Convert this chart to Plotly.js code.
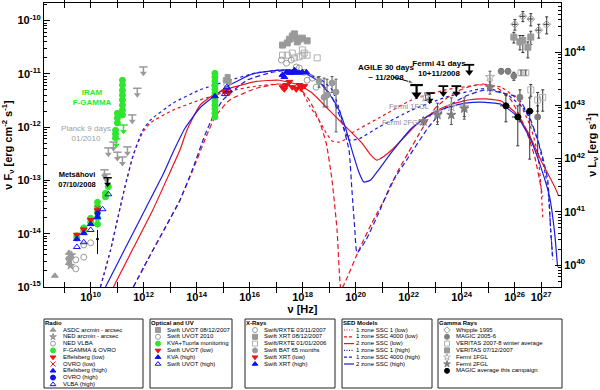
<!DOCTYPE html>
<html><head><meta charset="utf-8">
<script src="https://cdn.plot.ly/plotly-3.0.1.min.js"></script>
<style>html,body{margin:0;padding:0;background:#fff}#chart{width:600px;height:390px}</style>
</head><body><div id="chart"></div>
<script>
// ===== DATA: log10(nu [Hz]) and log10(nuFnu [erg cm^-2 s^-1]) =====
// Radio
const asdcNu = [8.65, 9.18, 9.21, 9.18];
const asdcF  = [-14.79, -14.36, -14.44, -14.55];
const nedStarNu = [9.2, 9.24, 9.28];
const nedStarF  = [-14.49, -14.6, -14.4];
const nedVlbaNu = [9.18, 9.44, 9.44, 9.74, 9.74, 10.0];
const nedVlbaF  = [-14.47, -14.66, -14.49, -14.44, -14.21, -14.17];
const fgammaNu = [9.48, 9.48, 9.74, 9.74, 10.0, 10.0, 10.26, 10.26, 10.26, 10.26, 10.26, 10.56, 10.56, 10.67,
                  10.94, 10.94, 10.94, 11.01, 11.01, 11.01, 11.2, 11.2, 11.2, 11.2, 11.2, 11.2, 11.2, 11.2];
const fgammaF  = [-14.04, -14.08, -13.89, -13.95, -13.71, -13.78, -13.41, -13.5, -13.6, -13.7, -13.82, -13.31, -13.24, -13.12,
                  -12.06, -12.13, -12.2, -11.74, -11.83, -11.92, -11.12, -11.21, -11.31, -11.4, -11.49, -11.59, -11.68, -11.77];
const fgammaLimNu = [11.24, 10.97];
const fgammaLimF  = [-11.96, -12.22];
const planckLimNu = [11.99, 11.76, 11.57, 11.39, 11.2, 11.01, 10.86, 10.67, 10.52, 10.6];
const planckLimF  = [-10.87, -11.27, -11.77, -12.37, -12.56, -12.47, -12.28, -12.39, -12.8, -12.88];
const metsahoviLimNu = [10.64];
const metsahoviLimF  = [-12.95];
const radioBarNu = [10.26];
const radioBarF = [-14.1];
const radioBarHi = [-13.93];
const radioBarLo = [-14.38];
const effLowNu = [9.48, 9.74, 10.0, 10.26];
const effLowF  = [-14.02, -13.92, -13.74, -13.56];
const ovroLowNu = [10.26];
const ovroLowF  = [-13.52];
const effHighNu = [9.48, 9.74, 10.0, 10.26];
const effHighF  = [-14.1, -13.99, -13.82, -13.69];
const ovroHighNu = [10.26];
const ovroHighF  = [-13.62];
const vlbaHighNu = [9.48, 9.74, 10.0, 10.45, 10.67];
const vlbaHighF  = [-14.25, -14.16, -13.93, -13.54, -13.26];
// Optical / UV
const kvaNu = [14.69, 14.69, 14.69, 14.69, 14.69, 14.69, 14.69, 14.69, 14.69, 14.69, 14.69, 14.69];
const kvaF  = [-10.99, -11.06, -11.14, -11.21, -11.29, -11.36, -11.44, -11.51, -11.59, -11.66, -11.74, -11.81];
const kvaHighNu = [14.69];
const kvaHighF  = [-11.42];
const uvot0812Nu = [15.1, 15.17, 15.21];
const uvot0812F  = [-11.12, -11.06, -11.15];
const uvot2010Nu = [15.14];
const uvot2010F  = [-11.2];
const uvotLowNu = [15.06, 15.14, 15.21];
const uvotLowF  = [-11.34, -11.3, -11.36];
const uvotHighNu = [15.06, 15.14, 15.21];
const uvotHighF  = [-11.38, -11.25, -11.31];
// X-rays
const xrt0812Nu = [17.24, 17.42, 17.5, 17.61, 17.69, 17.76, 17.8, 17.87, 17.99, 18.17];
const xrt0812F  = [-10.46, -10.42, -10.35, -10.29, -10.25, -10.33, -10.4, -10.35, -10.33, -10.38];
const rxte0106Nu = [17.24, 17.42, 17.61, 17.69, 17.87, 17.99, 17.99, 18.06, 18.17, 18.55];
const rxte0106F  = [-10.65, -10.65, -10.61, -10.7, -10.68, -10.55, -10.65, -10.61, -10.65, -10.7];
const rxte0311Nu = [17.2, 17.39, 17.57, 17.76, 17.87, 18.06, 18.17, 18.36, 18.51];
const rxte0311F  = [-10.74, -10.8, -10.74, -10.87, -10.89, -10.97, -11.12, -11.08, -11.25];
const xrtHighNu = [17.24, 17.31, 17.39, 17.5, 17.61, 17.69, 17.76, 17.87, 17.99, 18.14];
const xrtHighF  = [-11.02, -11.06, -10.97, -10.98, -10.98, -10.93, -10.97, -10.98, -10.97, -10.97];
const xrtLowNu = [17.24, 17.31, 17.39, 17.5, 17.61, 17.76, 17.87, 17.95, 18.06];
const xrtLowF  = [-11.25, -11.29, -11.21, -11.15, -11.25, -11.29, -11.21, -11.27, -11.23];
const batNu = [18.62, 18.81, 18.92, 19.11, 19.26];
const batF  = [-11.14, -11.44, -11.4, -11.17, -11.34];
const batHi = [-11.05, -11.08, -11.1, -11.05, -11.1];
const batLo = [-11.25, -11.62, -11.62, -11.35, -12.09];
// Gamma rays
const agileLimNu = [22.3];
const agileLimF  = [-11.21];
const fermi41LimNu = [22.79, 23.31, 23.8, 24.29];
const fermi41LimF  = [-11.36, -11.23, -11.23, -10.83];
const fermi1Nu = [22.64, 23.09, 23.61, 24.1, 25.07];
const fermi1F  = [-11.44, -11.72, -11.62, -11.62, -11.06];
const fermi1Hi = [-11.38, -11.55, -11.45, -11.45, -10.95];
const fermi1Lo = [-11.5, -11.9, -11.8, -11.8, -11.2];
const fermi2Nu = [22.56, 23.09, 23.61, 24.1, 25.07];
const fermi2F  = [-11.89, -11.77, -11.77, -11.65, -11.25];
const fermi2Hi = [-11.82, -11.62, -11.62, -11.5, -11.15];
const fermi2Lo = [-11.96, -11.95, -11.95, -11.85, -11.38];
const magic56Nu = [25.49, 25.75, 25.97, 26.2, 26.87];
const magic56F  = [-10.95, -10.95, -11.04, -11.44, -11.81];
const magic56Hi = [-10.9, -10.9, -10.97, -11.3, -11.6];
const magic56Lo = [-11.0, -11.0, -11.12, -11.9, -12.5];
const veritasWNu = [26.24, 26.42, 26.61, 26.87, 27.06];
const veritasWF  = [-10.98, -10.98, -11.3, -11.49, -11.44];
const veritasWHi = [-10.93, -10.93, -11.2, -11.35, -11.3];
const veritasWLo = [-11.03, -11.03, -11.42, -11.7, -11.7];
const whippleNu = [26.01, 26.31, 26.61, 26.91, 27.21];
const whippleF  = [-10.07, -9.92, -9.97, -10.18, -10.07];
const whippleHi = [-9.98, -9.83, -9.87, -10.07, -9.93];
const whippleLo = [-10.18, -10.02, -10.1, -10.33, -10.25];
const veritasDNu = [25.97, 26.2, 26.31, 26.5, 26.61];
const veritasDF  = [-10.31, -10.4, -10.37, -10.5, -10.31];
const veritasDHi = [-10.22, -10.28, -10.28, -10.4, -10.2];
const veritasDLo = [-10.42, -10.55, -10.6, -10.7, -10.45];
const magicCampNu = [25.67, 26.12, 26.57];
const magicCampF  = [-11.6, -11.81, -11.7];
const magicCampHi = [-11.4, -11.6, -11.45];
const magicCampLo = [-11.9, -12.35, -12.6];
// SED models
const ssc1LowNu = [10.37,10.75,11.05,11.31,11.61,11.95,12.25,13.11,14.12,15.25,16.26,17.12,17.69,17.99,18.25,18.62,18.89,19.11,19.37,19.64,19.86,20.87,22.11,23.39,24.62,25.0,25.49,26.12,26.61,26.87,26.99,27.06];
const ssc1LowF  = [-15,-14.31,-13.65,-13.09,-12.52,-12.11,-11.92,-11.68,-11.49,-11.32,-11.23,-11.19,-11.25,-11.34,-11.59,-11.87,-12.11,-12.26,-12.28,-12.22,-12.11,-11.83,-11.49,-11.3,-11.21,-11.21,-11.25,-11.49,-12.0,-12.49,-13.09,-13.69];
const ssc4000LowNu = [11.61,12.25,12.81,13.37,13.86,14.31,14.69,15.25,16.26,17.12,17.87,18.25,18.62,18.89,19.11,19.3,19.45,19.64,20.12,20.61,21.14,21.62,22.0,22.37,23.01,23.76,24.36,24.81,25.37,25.86,26.39,26.76,26.99,27.06];
const ssc4000LowF  = [-15,-14.4,-13.89,-13.37,-12.8,-12.24,-11.81,-11.49,-11.27,-11.19,-11.27,-11.49,-11.87,-12.3,-13.0,-13.93,-15.05,-14.87,-14.31,-13.8,-13.31,-12.8,-12.47,-12.15,-11.64,-11.34,-11.23,-11.19,-11.27,-11.49,-12.0,-12.56,-13.12,-13.31];
const zone2LowNu = [10.86,11.61,12.36,13.0,13.37,13.64,14.12,14.61,15.25,16.26,17.12,17.87,18.36,19.0,19.64,20.24,20.57,20.8,21.06,21.36,21.81,22.37,22.94,23.5,24.25,24.89,25.49,26.01,26.5,26.99,27.51,27.66];
const zone2LowF  = [-15,-14.27,-13.54,-12.84,-12.43,-12.05,-11.59,-11.4,-11.27,-11.14,-11.12,-11.21,-11.36,-11.68,-12.0,-12.3,-12.52,-12.62,-12.55,-12.43,-12.2,-11.92,-11.72,-11.59,-11.49,-11.47,-11.51,-11.72,-12.09,-12.62,-13.12,-13.29];
const ssc1HighNu = [10.37,10.75,11.05,11.31,11.61,11.95,12.25,13.11,14.12,15.25,16.26,17.12,17.87,18.62,19.11,19.37,19.56,19.75,20.12,20.87,22.11,23.39,24.62,25.0,25.75,26.39,26.87,27.25,27.36,27.44];
const ssc1HighF  = [-15,-14.31,-13.65,-13.09,-12.52,-12.07,-11.87,-11.55,-11.3,-11.12,-10.98,-10.93,-10.95,-11.08,-11.3,-11.64,-12.02,-12.24,-12.22,-12.0,-11.68,-11.44,-11.29,-11.27,-11.4,-11.68,-12.24,-13.12,-13.93,-14.49];
const ssc4000HighNu = [11.61,12.25,12.81,13.37,13.86,14.31,14.61,14.99,15.89,16.86,17.5,18.14,18.62,19.11,19.49,19.75,19.86,19.97,20.05,20.39,20.87,21.36,22.0,22.75,23.39,24.14,24.89,25.56,26.12,26.61,26.99,27.25,27.36,27.44];
const ssc4000HighF  = [-15,-14.4,-13.89,-13.37,-12.77,-12.15,-11.81,-11.49,-11.12,-10.97,-10.93,-10.98,-11.12,-11.44,-11.92,-12.43,-13.18,-13.93,-14.36,-14.12,-13.61,-13.05,-12.56,-12.0,-11.64,-11.42,-11.3,-11.36,-11.44,-11.87,-12.43,-12.99,-13.93,-14.49];
const zone2HighNu = [10.56,11.31,12.06,12.74,13.11,13.56,14.12,14.61,15.25,16.11,17.12,17.61,18.14,18.62,19.11,19.37,19.64,19.86,20.12,20.31,20.57,20.87,21.36,22.11,22.75,23.39,24.14,24.74,25.49,26.12,26.61,26.99,27.32,27.51,27.62];
const zone2HighF  = [-15,-14.27,-13.54,-12.88,-12.47,-12.02,-11.64,-11.44,-11.21,-11.0,-10.93,-10.93,-11.0,-11.15,-11.45,-11.68,-12.05,-12.43,-12.84,-13.03,-12.99,-12.8,-12.47,-12.02,-11.79,-11.64,-11.55,-11.53,-11.57,-11.81,-12.24,-12.75,-13.31,-13.99,-14.62];
// Axis ticks
const xTickExp = [9,10,11,12,13,14,15,16,17,18,19,20,21,22,23,24,25,26,27];
const xLabelExp = [10,12,14,16,18,20,22,24,26,27];
const yTickExp = [-15,-14,-13,-12,-11,-10];
const y2TickExp = [40,41,42,43,44];

// ===== STYLES =====
const FONT = 'Liberation Sans, Arial, Helvetica, sans-serif';
const GRAY = '#9a9a9a', LGRAY = '#b0b0b0', DGRAY = '#7f7f7f';
const GREEN = '#2ee62e', RED = '#ee1111', BLUE = '#1111ee';
const MRED = '#e8141e', MBLUE = '#1c1ce0';
const S = {
  asdc:{sym:'triangle-up', color:GRAY, size:6}, nedStar:{sym:'star', color:GRAY, size:6},
  nedVlba:{sym:'circle-open', color:GRAY, size:6}, fgamma:{sym:'circle', color:GREEN, size:6},
  effLow:{sym:'triangle-down', color:RED, size:6}, ovroLow:{sym:'x-thin-open', color:RED, size:5},
  effHigh:{sym:'triangle-up', color:BLUE, size:6}, ovroHigh:{sym:'circle', color:BLUE, size:5},
  vlbaHigh:{sym:'triangle-up-open', color:BLUE, size:6},
  uvot0812:{sym:'square', color:GRAY, size:5}, uvot2010:{sym:'circle-open', color:GRAY, size:6},
  kva:{sym:'circle', color:GREEN, size:6}, uvotLow:{sym:'triangle-down', color:RED, size:6},
  kvaHigh:{sym:'triangle-up', color:BLUE, size:6}, uvotHigh:{sym:'triangle-up-open', color:BLUE, size:6},
  rxte0311:{sym:'circle-open', color:GRAY, size:6}, xrt0812:{sym:'square', color:GRAY, size:6},
  rxte0106:{sym:'square-open', color:LGRAY, size:6}, bat:{sym:'circle', color:GRAY, size:6},
  xrtLow:{sym:'triangle-down', color:RED, size:6}, xrtHigh:{sym:'triangle-up', color:BLUE, size:6},
  whipple:{sym:'diamond-open', color:GRAY, size:6}, magic56:{sym:'circle', color:DGRAY, size:6},
  veritasW:{sym:'square-open', color:LGRAY, size:6}, veritasD:{sym:'square', color:GRAY, size:6},
  fermi1:{sym:'star-open', color:LGRAY, size:7}, fermi2:{sym:'star', color:DGRAY, size:7},
  magicCamp:{sym:'circle', color:'#000', size:6},
  mSsc1Low:{color:MRED, dash:'dot'}, mSsc4000Low:{color:MRED, dash:'dash'}, m2Low:{color:MRED, dash:'solid'},
  mSsc1High:{color:MBLUE, dash:'dot'}, mSsc4000High:{color:MBLUE, dash:'dash'}, m2High:{color:MBLUE, dash:'solid'}
};

const P = v => Math.pow(10, v);
const traces = [];
function errBar(f, hi, lo, color, w) {
  return {type:'data', symmetric:false, array:f.map((v,i)=>P(hi[i])-P(v)),
          arrayminus:f.map((v,i)=>P(v)-P(lo[i])), color:color, thickness:1, width:w===undefined?1.5:w};
}
function pts(nu, f, st, extra) {
  const t = {type:'scatter', mode:'markers', x:nu.map(P), y:f.map(P), xaxis:'x', yaxis:'y',
    hoverinfo:'skip', showlegend:false, cliponaxis:true,
    marker:{symbol:st.sym, size:st.size, color:st.color, line:{color:st.color, width:1}}};
  return Object.assign(t, extra || {});
}
function model(nu, f, st) {
  traces.push({type:'scatter', mode:'lines', x:nu.map(P), y:f.map(P), xaxis:'x', yaxis:'y',
    hoverinfo:'skip', showlegend:false,
    line:{color:st.color, dash:st.dash === 'dash' ? '5px,3px' : st.dash, width:1.2, shape:'spline', smoothing:0.45}});
}
function limits(nu, f, color, sz, lw) {
  const drop = 0.12 * sz / 6;
  traces.push({type:'scatter', mode:'markers', x:nu.map(P), y:f.map(P), xaxis:'x', yaxis:'y', hoverinfo:'skip', showlegend:false,
    marker:{symbol:'line-ew-open', size:sz, color:color, line:{color:color, width:lw}},
    error_y:{type:'data', symmetric:false, array:f.map(()=>0), arrayminus:f.map(v=>P(v)-P(v-drop)), color:color, thickness:lw, width:0}});
  traces.push({type:'scatter', mode:'markers', x:nu.map(P), y:f.map(v=>P(v-drop)), xaxis:'x', yaxis:'y', hoverinfo:'skip', showlegend:false,
    marker:{symbol:'triangle-down', size:sz, color:color, line:{width:0}}});
}

// models
model(ssc1LowNu, ssc1LowF, S.mSsc1Low);
model(ssc1HighNu, ssc1HighF, S.mSsc1High);
model(ssc4000LowNu, ssc4000LowF, S.mSsc4000Low);
model(ssc4000HighNu, ssc4000HighF, S.mSsc4000High);
model(zone2LowNu, zone2LowF, S.m2Low);
model(zone2HighNu, zone2HighF, S.m2High);

// radio
traces.push(pts(asdcNu, asdcF, S.asdc));
traces.push(pts(nedStarNu, nedStarF, S.nedStar));
traces.push(pts(nedVlbaNu, nedVlbaF, S.nedVlba));
traces.push(pts(radioBarNu, radioBarF, {sym:'circle', color:'#000', size:2}, {error_y:errBar(radioBarF, radioBarHi, radioBarLo, '#000', 0)}));
traces.push(pts(fgammaNu, fgammaF, S.fgamma));
limits(fgammaLimNu, fgammaLimF, GREEN, 6, 1.5);
limits(planckLimNu, planckLimF, GRAY, 6, 1.5);
limits(metsahoviLimNu, metsahoviLimF, '#000', 6, 1.5);
traces.push(pts(effLowNu, effLowF, S.effLow));
traces.push(pts(ovroLowNu, ovroLowF, S.ovroLow));
traces.push(pts(effHighNu, effHighF, S.effHigh));
traces.push(pts(ovroHighNu, ovroHighF, S.ovroHigh));
traces.push(pts(vlbaHighNu, vlbaHighF, S.vlbaHigh));
// optical
traces.push(pts(kvaNu, kvaF, S.kva));
traces.push(pts(uvot0812Nu, uvot0812F, S.uvot0812));
traces.push(pts(uvot2010Nu, uvot2010F, S.uvot2010));
traces.push(pts(uvotLowNu, uvotLowF, S.uvotLow));
traces.push(pts(kvaHighNu, kvaHighF, S.kvaHigh));
traces.push(pts(uvotHighNu, uvotHighF, S.uvotHigh));
// x-rays
traces.push(pts(xrt0812Nu, xrt0812F, S.xrt0812));
traces.push(pts(rxte0106Nu, rxte0106F, S.rxte0106));
traces.push(pts(rxte0311Nu, rxte0311F, S.rxte0311));
traces.push(pts(batNu, batF, S.bat, {error_y:errBar(batF, batHi, batLo, '#555', 1.5)}));
traces.push(pts(xrtHighNu, xrtHighF, S.xrtHigh));
traces.push(pts(xrtLowNu, xrtLowF, S.xrtLow));
// gamma
limits(agileLimNu, agileLimF, '#000', 9, 2.2);
limits(fermi41LimNu, fermi41LimF, '#000', 7, 1.8);
traces.push(pts(fermi1Nu, fermi1F, S.fermi1, {error_y:errBar(fermi1F, fermi1Hi, fermi1Lo, '#555', 1.5)}));
traces.push(pts(fermi2Nu, fermi2F, S.fermi2, {error_y:errBar(fermi2F, fermi2Hi, fermi2Lo, '#555', 1.5)}));
traces.push(pts(whippleNu, whippleF, S.whipple, {error_y:errBar(whippleF, whippleHi, whippleLo, '#333', 1.5),
  error_x:{type:'percent', value:25, color:'#333', thickness:1, width:0}}));
traces.push(pts(veritasDNu, veritasDF, S.veritasD, {error_y:errBar(veritasDF, veritasDHi, veritasDLo, '#333', 1.5)}));
traces.push(pts(magic56Nu, magic56F, S.magic56, {error_y:errBar(magic56F, magic56Hi, magic56Lo, '#333', 1.5)}));
traces.push(pts(veritasWNu, veritasWF, S.veritasW, {error_y:errBar(veritasWF, veritasWHi, veritasWLo, '#333', 1.5)}));
traces.push(pts(magicCampNu, magicCampF, S.magicCamp, {error_y:errBar(magicCampF, magicCampHi, magicCampLo, '#333', 1.5),
  error_x:{type:'percent', value:40, color:'#333', thickness:1, width:0}}));
// dummy trace for the right (luminosity) axis
traces.push({type:'scatter', mode:'markers', x:[1e20], y:[1e42], xaxis:'x', yaxis:'y2', hoverinfo:'skip',
  showlegend:false, marker:{opacity:0}});

// ===== LEGEND BOXES and LABELS (pixel layout on an overlay axis x3/y3) =====
const W = 600, H = 390;
const px = x => x / W, py = y => 1 - y / H;
const legendBoxes = [
  {x0:44, x1:143, mx:9, tx:19, title:'Radio', items:[
    ['ASDC arcmin - arcsec', S.asdc], ['NED arcmin - arcsec', S.nedStar], ['NED VLBA', S.nedVlba],
    ['F-GAMMA & OVRO', S.fgamma], ['Effelsberg (low)', S.effLow], ['OVRO (low)', S.ovroLow],
    ['Effelsberg (high)', S.effHigh], ['OVRO (high)', S.ovroHigh], ['VLBA (high)', S.vlbaHigh]]},
  {x0:150, x1:232, mx:8, tx:17, title:'Optical and UV', items:[
    ['Swift UVOT 08/12/2007', S.uvot0812], ['Swift UVOT 2010', S.uvot2010], ['KVA+Tuorla monitoring', S.kva],
    ['Swift UVOT (low)', S.uvotLow], ['KVA (high)', S.kvaHigh], ['Swift UVOT (high)', S.uvotHigh]]},
  {x0:245, x1:335, mx:10, tx:19, title:'X-Rays', items:[
    ['Swift/RXTE 03/11/2007', S.rxte0311], ['Swift XRT 08/12/2007', S.xrt0812], ['Swift/RXTE 01/01/2006', S.rxte0106],
    ['Swift BAT 65 months', S.bat], ['Swift XRT (low)', S.xrtLow], ['Swift XRT (high)', S.xrtHigh]]},
  {x0:342, x1:432, mx:7, tx:14, title:'SED Models', items:[
    ['1 zone SSC 1 (low)', S.mSsc1Low], ['1 zone SSC 4000 (low)', S.mSsc4000Low], ['2 zone SSC (low)', S.m2Low],
    ['1 zone SSC 1 (high)', S.mSsc1High], ['1 zone SSC 4000 (high)', S.mSsc4000High], ['2 zone SSC (high)', S.m2High]]},
  {x0:438, x1:562, mx:9, tx:18, title:'Gamma Rays', items:[
    ['Whipple 1995', S.whipple], ['MAGIC 2005-6', S.magic56], ['VERITAS 2007-8 winter average', S.veritasW],
    ['VERITAS 07/12/2007', S.veritasD], ['Fermi 1FGL', S.fermi1], ['Fermi 2FGL', S.fermi2],
    ['MAGIC average this campaign', S.magicCamp]]}
];
const shapes = [];
const texts = [];
const LY0 = 319, LY1 = 388, ROW0 = 330, ROWSTEP = 6.8;
const note = (x, y, text, color, size, anchor) => texts.push({x:x, y:y, text:text, color:color, size:size,
  pos: anchor === 'left' ? 'middle right' : 'middle center'});
legendBoxes.forEach(b => {
  shapes.push({type:'rect', xref:'paper', yref:'paper', x0:px(b.x0), x1:px(b.x1), y0:py(LY1), y1:py(LY0),
    line:{color:'#222', width:1}});
  note(b.x0+1, LY0+4, '<b>'+b.title+'</b>', '#000', 6, 'left');
  b.items.forEach((it, i) => {
    const y = ROW0 + i*ROWSTEP, st = it[1];
    if (st.dash) {
      traces.push({type:'scatter', mode:'lines', x:[b.x0+2, b.x0+12], y:[y, y], xaxis:'x3', yaxis:'y3',
        hoverinfo:'skip', showlegend:false, cliponaxis:false,
        line:{color:st.color, dash:st.dash==='dash'?'3px,2px':(st.dash==='dot'?'1px,1.5px':'solid'), width:1.2}});
    } else {
      traces.push({type:'scatter', mode:'markers', x:[b.x0+b.mx], y:[y], xaxis:'x3', yaxis:'y3', hoverinfo:'skip',
        showlegend:false, cliponaxis:false,
        marker:{symbol:st.sym, size:5, color:st.color, line:{color:st.color, width:1}}});
    }
    note(b.x0+b.tx, y, it[0], '#000', 6, 'left');
  });
});

// In-plot labels (pixel positions)
note(92, 98, '<b>IRAM<br>F-GAMMA</b>', GREEN, 8, 'center');
note(86, 134, 'Planck 9 days<br>01/2010', '#a0a0a0', 8, 'center');
note(77, 180, '<b>Metsähovi<br>07/10/2008</b>', '#000', 7.5, 'center');
note(386, 73, '<b>AGILE 30 days<br>~ 11/2008</b>', '#000', 8, 'center');
note(439, 69, '<b>Fermi 41 days<br>10+11/2008</b>', '#000', 8, 'center');
note(409, 107, 'Fermi 1FGL', '#9a8a8a', 7.5, 'center');
note(402, 123, 'Fermi 2FGL', '#8a8aa0', 7.5, 'center');

traces.push({type:'scatter', mode:'text', x:texts.map(t=>t.x), y:texts.map(t=>t.y), text:texts.map(t=>t.text),
  textposition:texts.map(t=>t.pos), xaxis:'x3', yaxis:'y3', cliponaxis:false, hoverinfo:'skip', showlegend:false,
  marker:{size:0}, textfont:{family:FONT, size:texts.map(t=>t.size), color:texts.map(t=>t.color)}});
// AGILE pointer arrow
traces.push({type:'scatter', mode:'lines+markers', x:[393, 414], y:[77, 83], xaxis:'x3', yaxis:'y3',
  cliponaxis:false, hoverinfo:'skip', showlegend:false, line:{color:'#000', width:1},
  marker:{symbol:'arrow', angleref:'previous', size:[0, 6], color:'#000'}});

const sup = e => '10<sup>' + e + '</sup>';
const tickFont = {family:FONT, size:11, color:'#000', weight:'bold'};
const titleFont = {family:FONT, size:11, color:'#000', weight:'bold'};
const axBase = {type:'log', showgrid:false, zeroline:false, showline:true, linecolor:'#000', linewidth:1,
  ticks:'inside', tickcolor:'#000', tickfont:tickFont, tickmode:'array'};

const layout = {
  width:W, height:H, margin:{l:0, r:0, t:0, b:0, autoexpand:false},
  paper_bgcolor:'#fff', plot_bgcolor:'rgba(0,0,0,0)', showlegend:false,
  font:{family:FONT, color:'#000'},
  xaxis:Object.assign({}, axBase, {domain:[44/W, 561/W], range:[8.24, 27.75], anchor:'y',
    tickvals:xTickExp.map(P), ticktext:xTickExp.map(e => xLabelExp.includes(e) ? sup(e) : ''),
    ticklen:5, mirror:'allticks', title:{text:'ν [Hz]', font:titleFont, standoff:2}}),
  yaxis:Object.assign({}, axBase, {domain:[103/H, 387/H], range:[-15, -9.67], anchor:'x',
    tickvals:yTickExp.map(P), ticktext:yTickExp.map(sup), ticklen:6, mirror:true,
    minor:{ticks:'inside', ticklen:3, tickcolor:'#000', dtick:'D1', showgrid:false},
    title:{text:'ν F<sub>ν</sub> [erg cm<sup>-2</sup> s<sup>-1</sup>]', font:titleFont, standoff:4}}),
  yaxis2:Object.assign({}, axBase, {overlaying:'y', side:'right', anchor:'x', range:[39.59, 44.92],
    tickvals:y2TickExp.map(P), ticktext:y2TickExp.map(sup), ticklen:6,
    minor:{ticks:'inside', ticklen:3, tickcolor:'#000', dtick:'D1', showgrid:false},
    title:{text:'ν L<sub>ν</sub> [erg s<sup>-1</sup>]', font:titleFont, standoff:4}}),
  xaxis3:{domain:[0,1], range:[0,W], visible:false, fixedrange:true, anchor:'y3'},
  yaxis3:{domain:[0,1], range:[H,0], visible:false, fixedrange:true, anchor:'x3'},
  shapes:shapes
};
Plotly.newPlot('chart', traces, layout, {displayModeBar:false, staticPlot:true});
</script></body></html>
